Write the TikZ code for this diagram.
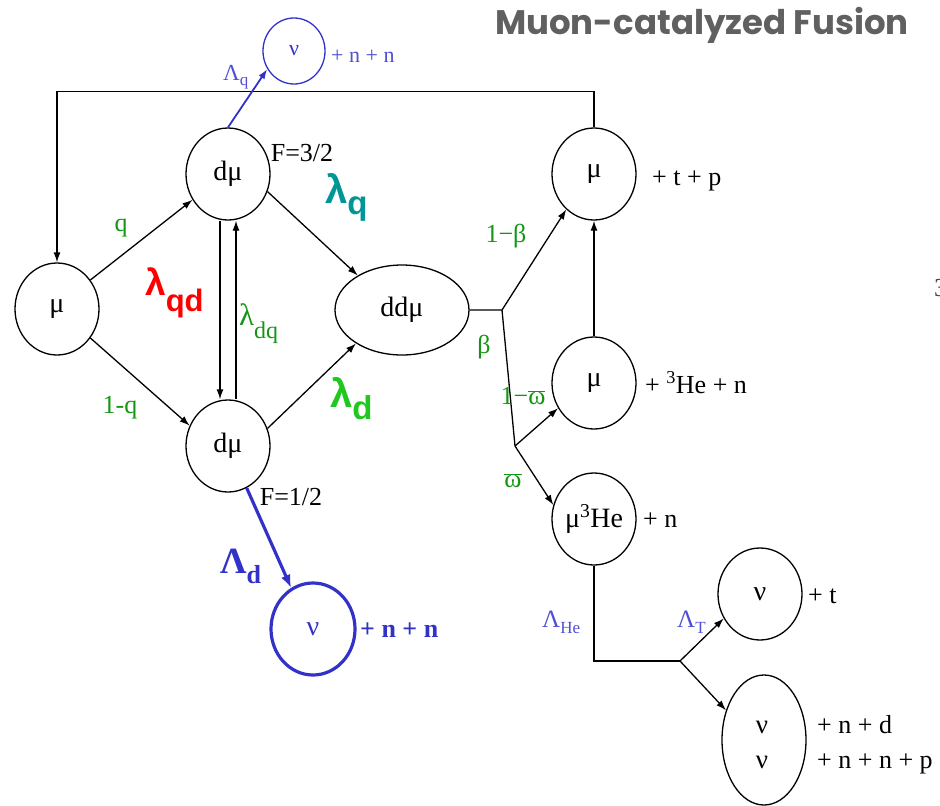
\documentclass[tikz,border=0pt]{standalone}
\usepackage{fontspec}
\setmainfont{Liberation Serif}
\newfontfamily\lsans{Liberation Sans}
\newfontfamily\ttlfont{Poppins}
\usetikzlibrary{shapes.geometric,arrows.meta}
\definecolor{grn}{RGB}{20,150,20}
\definecolor{lgrn}{RGB}{30,200,30}
\definecolor{teal2}{RGB}{0,150,150}
\definecolor{blu}{RGB}{50,50,200}
\definecolor{lblu}{RGB}{80,80,215}
\definecolor{ttlgray}{RGB}{96,96,96}
\newcommand\fs[1]{\fontsize{#1}{#1}\selectfont}
\begin{document}
\begin{tikzpicture}[x=1pt,y=-1pt,
  st/.style={ellipse,draw,line width=1.3pt,inner sep=0pt,minimum width=84pt,minimum height=92pt,font=\fs{28}},
  arr/.style={line width=1.3pt,-{Latex[length=10pt,width=7pt]}},
  ln/.style={line width=1.3pt},
  lbl/.style={inner sep=0pt,font=\fs{26}},
  glbl/.style={lbl,text=grn},
  tag/.style={anchor=base west,inner sep=0pt,font=\fs{26}}]
\useasboundingbox (0,0) rectangle (940,806);
% title
\node[anchor=base,inner sep=0pt,text=ttlgray,font=\ttlfont\bfseries\fs{34}] (title) at (702,34) {Muon-catalyzed Fusion};
% states
\node[st] (mu) at (57,309) {μ};
\node[st] (dA) at (228,174) {dμ};
\node[st] (dB) at (228,446) {dμ};
\node[st,minimum width=134pt,minimum height=90pt] (dd) at (402,310) {ddμ};
\node[st,draw=blu,text=blu,minimum width=62pt,minimum height=66pt,font=\fs{22}] (nuA) at (294,51) {ν};
\node[st] (muT) at (594,174) {μ};
\node[st] (muM) at (594,383) {μ};
\node[st] (muHe) at (594,519) {μ\textsuperscript{3}He};
\node[st,draw=blu,text=blu,line width=3.2pt] (nuB) at (313,629) {ν};
\node[st] (nuT) at (760,594) {ν};
\node[st,minimum height=130pt] (nuN) at (764,740) {};
\node[lbl,anchor=base,font=\fs{27}] (nuN1) at (762,733) {ν};
\node[lbl,anchor=base,font=\fs{27}] (nuN2) at (762,768) {ν};
% junctions
\coordinate (j1) at (502,310);
\coordinate (j2) at (515,446);
\coordinate (j3) at (680,661);
% connectors
\draw[arr] (mu.41) -- (dA.216);
\draw[arr] (mu.-41) -- (dB.152);
\draw[arr] ([xshift=-8pt]dA.south) -- ([xshift=-8pt]dB.north);
\draw[arr] ([xshift=8pt]dB.north) -- ([xshift=8pt]dA.south);
\draw[arr] (dA.-24) -- (dd.142);
\draw[arr] (dB.24) -- (dd.216);
\draw[arr] (muT.north) -- ++(0,-36) -| (mu.north);
\draw[ln] (dd.east) -- (j1) -- (j2);
\draw[arr] (j1) -- (muT.-128);
\draw[arr] (j2) -- (muM.-145);
\draw[arr] (j2) -- (muHe.161);
\draw[arr] (muM.north) -- (muT.south);
\draw[ln] (muHe.south) |- (j3);
\draw[arr] (j3) -- (nuT.-146);
\draw[arr] (j3) -- (nuN.142);
\draw[arr,draw=blu,fill=blu,line width=1.8pt] (dA.north) -- (nuA.-146);
\draw[draw=blu,fill=blu,line width=3.2pt,-{Latex[length=13pt,width=10pt]}] (dB.-66) -- (nuB.118);
% labels
\node[lbl] (f32) at (302,153) {F=3/2};
\node[lbl] (f12) at (291,497) {F=1/2};
\node[glbl] (lq) at (121,228) {q};
\node[glbl] (l1q) at (120,408) {1-q};
\node[anchor=base west,inner sep=0pt,text=red,font=\lsans\bfseries] (lqd) at (145,295) {\fs{37}λ\raisebox{-16pt}{\fs{31}qd}};
\node[anchor=base west,inner sep=0pt,text=grn] (ldq) at (239,325) {\fs{31}λ\raisebox{-13pt}{\fs{24}dq}};
\node[anchor=base west,inner sep=0pt,text=teal2,font=\lsans\bfseries] (lamq) at (325,203) {\fs{40}λ\raisebox{-11pt}{\fs{33}q}};
\node[anchor=base west,inner sep=0pt,text=lgrn,font=\lsans\bfseries] (lamd) at (330,407) {\fs{40}λ\raisebox{-12pt}{\fs{33}d}};
\node[anchor=base west,inner sep=0pt,text=blu,font=\bfseries] (Ld) at (220,573) {\fs{37}Λ\raisebox{-10pt}{\fs{26}d}};
\node[anchor=base west,inner sep=0pt,text=lblu] (Lq) at (223,80) {\fs{23}Λ\raisebox{-5pt}{\fs{17}q}};
\node[anchor=base west,inner sep=0pt,text=lblu] (LHe) at (542,627) {\fs{25}Λ\raisebox{-6pt}{\fs{17}He}};
\node[anchor=base west,inner sep=0pt,text=lblu] (LT) at (677,627) {\fs{25}Λ\raisebox{-6pt}{\fs{17}T}};
\node[glbl] (b1) at (506,236) {1−β};
\node[glbl] (b) at (484,347) {β};
\node[glbl] (w1) at (523,396) {1−$\overline{\hbox{ω}}$};
\node[glbl] (w) at (513,481) {$\overline{\hbox{ω}}$};
% products
\node[tag,text=lblu,font=\fs{22}] (pA) at (331,62) {+ n + n};
\node[tag,text=blu,font=\bfseries\fs{26}] (pB) at (360,637) {+ n + n};
\node[tag] (pT) at (652,185) {+ t + p};
\node[tag] (pM) at (645,393) {+ \textsuperscript{3}He + n};
\node[tag] (pHe) at (643,527) {+ n};
\node[tag] (pt) at (808,603) {+ t};
\node[tag] (pnd) at (817,733) {+ n + d};
\node[tag] (pnnp) at (817,768) {+ n + n + p};
\node[tag,text=black!75] (stray) at (934,296) {3};
\end{tikzpicture}
\end{document}
